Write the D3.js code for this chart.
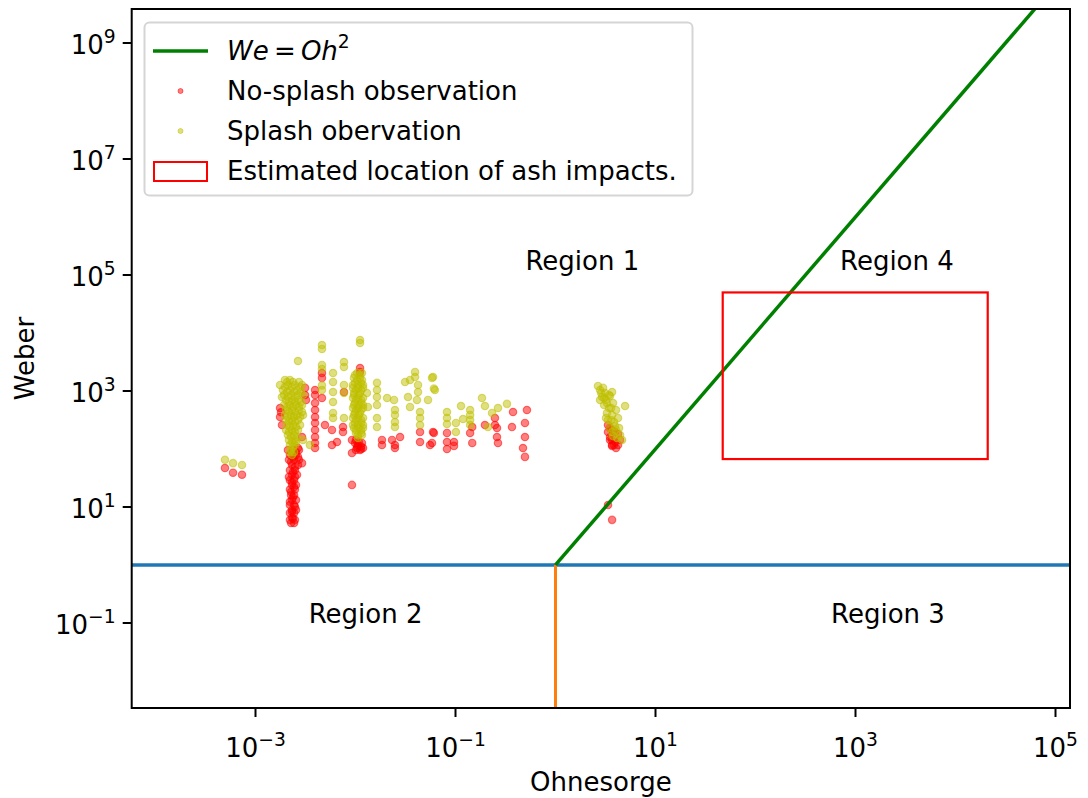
<!DOCTYPE html>
<html>
<head>
<meta charset="utf-8">
<script src="https://cdn.jsdelivr.net/npm/d3@7"></script>
<style>
  html, body { margin: 0; padding: 0; background: #ffffff; }
  svg { display: block; }
  text { font-family: "DejaVu Sans", sans-serif; fill: #000; }
</style>
</head>
<body>
<svg id="chart" width="1088" height="798"></svg>
<script>
// Droplet impact regime map: Weber number against Ohnesorge number.

// No-splash observations [Ohnesorge, Weber]
const noSplash = [
  [0.000495, 47], [0.000596, 39], [0.000733, 36],
  [0.00227, 5.3], [0.00243, 5.3], [0.00221, 6.0], [0.00248, 6.0], [0.00232, 6.6],
  [0.00221, 7.9], [0.00243, 7.9], [0.00232, 8.9], [0.00254, 8.9], [0.00221, 10.8],
  [0.00243, 10.8], [0.00232, 13.2], [0.00254, 13.2], [0.00227, 16], [0.00243, 16],
  [0.00221, 20], [0.00248, 20], [0.00232, 24], [0.00254, 24], [0.00221, 29],
  [0.00243, 29], [0.00232, 36], [0.0026, 36], [0.00221, 43], [0.00248, 43],
  [0.00232, 53], [0.00266, 53], [0.00216, 65], [0.00243, 65], [0.00272, 65],
  [0.00221, 79], [0.00254, 79], [0.00211, 96], [0.00237, 96], [0.00272, 96],
  [0.00237, 6.3], [0.00232, 8.2], [0.00248, 10.1], [0.00221, 12.3], [0.00237, 14.8],
  [0.00227, 18.1], [0.00243, 22.1], [0.00232, 27], [0.00216, 33], [0.00248, 33],
  [0.00237, 40], [0.00248, 49], [0.00227, 60], [0.00237, 73], [0.00266, 73],
  [0.00254, 88],
  [0.00292, 57], [0.00266, 104], [0.00292, 161],
  [0.00176, 509], [0.00176, 356], [0.00184, 259], [0.00180, 430],
  [0.00313, 1130], [0.00313, 853], [0.0032, 700],
  [0.00394, 1040], [0.00394, 853], [0.00394, 621], [0.00394, 470], [0.00394, 356],
  [0.00394, 281], [0.00394, 213], [0.00394, 161], [0.00394, 127], [0.00394, 104],
  [0.00462, 2040], [0.00462, 1680], [0.00462, 757],
  [0.00495, 259], [0.00582, 213], [0.00582, 117], [0.00653, 132], [0.00767, 961],
  [0.0075, 239], [0.0075, 196],
  [0.00922, 143], [0.00989, 127], [0.0106, 117], [0.0114, 110], [0.0119, 104],
  [0.0101, 96], [0.0111, 96], [0.0104, 110],
  [0.0101, 143], [0.0108, 132], [0.0116, 127], [0.0104, 104], [0.0114, 100],
  [0.0111, 2490], [0.0111, 2130], [0.00922, 85], [0.00922, 24],
  [0.0184, 143], [0.0184, 117], [0.0232, 143], [0.0248, 117], [0.0248, 104],
  [0.0279, 161], [0.0442, 196], [0.0442, 132], [0.0556, 117], [0.0596, 196],
  [0.0608, 189], [0.0582, 127], [0.0822, 189], [0.0822, 132], [0.0822, 100],
  [0.0966, 132], [0.0966, 113], [0.147, 239], [0.140, 189], [0.147, 127],
  [0.197, 259], [0.248, 342], [0.248, 259], [0.26, 230], [0.26, 161], [0.266, 127],
  [0.376, 434], [0.367, 239], [0.518, 470], [0.495, 281], [0.495, 161],
  [0.473, 104], [0.495, 73],
  [3.35, 259], [3.51, 230], [3.68, 213], [3.94, 196], [4.22, 181], [3.51, 161],
  [3.68, 143], [3.94, 132], [4.22, 117], [3.68, 117], [3.35, 196], [4.42, 143],
  [3.51, 143], [3.85, 117], [4.03, 104], [3.68, 113],
  [3.35, 10.8], [3.68, 6.0]
];

// Splash observations [Ohnesorge, Weber]
const splash = [
  [0.000495, 65], [0.000596, 57], [0.000733, 53],
  [0.00197, 1550], [0.00221, 1550],
  [0.00176, 1270], [0.00211, 1270], [0.00248, 1270], [0.00292, 1270],
  [0.00188, 1040], [0.00221, 1040], [0.0026, 1040],
  [0.00193, 853], [0.00227, 853], [0.00266, 853], [0.00299, 853],
  [0.00202, 700], [0.00232, 700], [0.00266, 700],
  [0.00193, 574], [0.00221, 574], [0.00254, 574], [0.00292, 574],
  [0.00202, 470], [0.00232, 470], [0.00272, 470],
  [0.00197, 386], [0.00227, 386], [0.0026, 386], [0.00299, 386],
  [0.00202, 316], [0.00232, 316], [0.00266, 316],
  [0.00207, 259], [0.00237, 259], [0.00279, 259],
  [0.00202, 213], [0.00232, 213], [0.00266, 213],
  [0.00211, 174], [0.00243, 174], [0.00216, 143], [0.00248, 143],
  [0.00221, 117], [0.00248, 117], [0.00227, 96], [0.00232, 79],
  [0.00207, 1430], [0.00237, 1430], [0.00272, 1430],
  [0.00197, 1172], [0.00232, 1172], [0.00279, 1172],
  [0.00207, 961], [0.00243, 961], [0.00285, 961],
  [0.00211, 788], [0.00248, 788], [0.00184, 788],
  [0.00216, 646], [0.00248, 646], [0.00285, 646],
  [0.00207, 530], [0.00237, 530], [0.00272, 530],
  [0.00216, 434], [0.00248, 434], [0.00292, 434],
  [0.00211, 356], [0.00243, 356], [0.00279, 356],
  [0.00216, 292], [0.00248, 292], [0.00221, 239], [0.00254, 239],
  [0.00216, 196], [0.00248, 196], [0.00227, 161], [0.0026, 161],
  [0.00232, 132], [0.00254, 132], [0.00237, 108], [0.00221, 88], [0.00243, 88],
  [0.00266, 3290], [0.0035, 117], [0.00299, 143],
  [0.00462, 6210], [0.00462, 5300], [0.00462, 2810], [0.00462, 2400],
  [0.00462, 1250], [0.00462, 1040],
  [0.00596, 2040], [0.00596, 1430], [0.00596, 961], [0.00596, 646],
  [0.00596, 418], [0.00596, 342],
  [0.00767, 3160], [0.00767, 2590], [0.00767, 1270], [0.00767, 924], [0.00767, 342],
  [0.0104, 2040], [0.0116, 2040], [0.00966, 1680], [0.0111, 1680],
  [0.00989, 1370], [0.0114, 1370], [0.00944, 1130], [0.0106, 1130], [0.0119, 1130],
  [0.00966, 924], [0.0111, 924], [0.00944, 757], [0.0106, 757], [0.0119, 757],
  [0.00989, 621], [0.0114, 621], [0.00944, 509], [0.0106, 509], [0.0119, 509],
  [0.00989, 418], [0.0111, 418], [0.00944, 342], [0.0106, 342], [0.0119, 342],
  [0.00989, 281], [0.0114, 281], [0.00966, 230], [0.0108, 230], [0.0119, 230],
  [0.0101, 189], [0.0114, 189], [0.0106, 155],
  [0.00989, 1888], [0.0111, 1888], [0.0104, 1550], [0.0116, 1550],
  [0.00944, 1270], [0.0106, 1270], [0.0119, 1270], [0.0101, 1040], [0.0114, 1040],
  [0.00966, 853], [0.0108, 853], [0.0101, 700], [0.0114, 700],
  [0.00966, 574], [0.0108, 574], [0.0119, 574], [0.0101, 470], [0.0114, 470],
  [0.00966, 386], [0.0108, 386], [0.0101, 316], [0.0114, 316],
  [0.00944, 259], [0.0106, 259], [0.0119, 259], [0.0101, 213], [0.0114, 213],
  [0.0106, 174], [0.0116, 174],
  [0.0111, 7570], [0.0111, 6720],
  [0.013, 924], [0.0133, 530],
  [0.0164, 1380], [0.0164, 1040], [0.0164, 788], [0.0164, 574], [0.0164, 342], [0.0164, 239],
  [0.0207, 757], [0.0243, 700], [0.0248, 470], [0.0248, 386], [0.0248, 292], [0.0248, 239],
  [0.0313, 1430], [0.0351, 1550], [0.0394, 2130], [0.0394, 1740], [0.0335, 788],
  [0.0351, 530], [0.0422, 1270], [0.0422, 961], [0.0412, 700], [0.0531, 700],
  [0.0582, 1680], [0.0622, 1040], [0.0442, 434], [0.0442, 342], [0.0442, 259],
  [0.0596, 1740], [0.0608, 1100],
  [0.0822, 434], [0.0822, 342], [0.0822, 270], [0.101, 281], [0.101, 196],
  [0.1135, 551], [0.140, 470], [0.140, 386], [0.140, 316], [0.140, 259],
  [0.119, 329], [0.184, 757], [0.197, 551], [0.232, 418], [0.266, 509],
  [0.327, 600], [0.211, 239],
  [2.66, 1220], [2.79, 1040], [2.99, 1130], [3.13, 924], [2.92, 788], [3.2, 700],
  [3.51, 820], [3.06, 574], [3.43, 509], [3.76, 621], [3.27, 418], [3.68, 386],
  [4.03, 470], [3.35, 316], [3.85, 292], [4.22, 342], [3.51, 230], [4.03, 213],
  [4.42, 174], [4.96, 551], [4.63, 143], [3.76, 167], [2.79, 700], [3.68, 961],
  [2.86, 924], [3.06, 757], [3.27, 621], [3.60, 509], [3.2, 342], [3.6, 316],
  [3.94, 249], [4.32, 230], [3.68, 196], [4.12, 155], [3.43, 853]
];

// We = Oh^2 boundary, from Oh = 1 upward
const boundaryOh = [1, 1e5];
const boundaryWe = [1, 1e10];

// Threshold lines at We = 1 and Oh = 1
const weThreshold = 1;
const ohThreshold = 1;

// Estimated location of ash impacts (Oh range, We range)
const ashOh = [47, 21000];
const ashWe = [67, 50000];

// Region labels [text, Oh, We]
const regionLabels = [
  ["Region 1", 0.5, 1.2e5],
  ["Region 4", 700, 1.2e5],
  ["Region 2", 0.0034, 0.1],
  ["Region 3", 570, 0.1]
];

// Axis ticks (every other decade)
const xTickExps = [-3, -1, 1, 3, 5];
const yTickExps = [-1, 1, 3, 5, 7, 9];

const legendItems = [
  { kind: "line", label: "We = Oh2" },
  { kind: "dot", color: "#ff0000", label: "No-splash observation" },
  { kind: "dot", color: "#bfbf00", label: "Splash obervation" },
  { kind: "rect", label: "Estimated location of ash impacts." }
];

const svg = d3.select("#chart");
const pLeft = 131.7, pRight = 1070, pTop = 9, pBottom = 708;
const FONT = 26;

const x = d3.scaleLog().domain([Math.pow(10, -4.238), Math.pow(10, 5.145)]).range([pLeft, pRight]);
const y = d3.scaleLog().domain([Math.pow(10, -2.466), Math.pow(10, 9.586)]).range([pBottom, pTop]);

svg.append("defs").append("clipPath").attr("id", "plotClip")
  .append("rect").attr("x", pLeft).attr("y", pTop).attr("width", pRight - pLeft).attr("height", pBottom - pTop);

const plot = svg.append("g").attr("clip-path", "url(#plotClip)");

// Observations
function drawPoints(data, color) {
  plot.append("g").selectAll("circle").data(data).join("circle")
    .attr("cx", d => x(d[0]))
    .attr("cy", d => y(d[1]))
    .attr("r", 3.7)
    .attr("fill", color).attr("fill-opacity", 0.5)
    .attr("stroke", color).attr("stroke-opacity", 0.5).attr("stroke-width", 1.2);
}
drawPoints(noSplash, "#ff0000");
drawPoints(splash, "#bfbf00");

// Horizontal We = 1 line
plot.append("line")
  .attr("x1", pLeft).attr("x2", pRight)
  .attr("y1", y(weThreshold)).attr("y2", y(weThreshold))
  .attr("stroke", "#1f77b4").attr("stroke-width", 3.5);

// Vertical Oh = 1 line below We = 1
plot.append("line")
  .attr("x1", x(ohThreshold)).attr("x2", x(ohThreshold))
  .attr("y1", y(weThreshold)).attr("y2", pBottom)
  .attr("stroke", "#ff7f0e").attr("stroke-width", 3);

// We = Oh^2 boundary
plot.append("path")
  .datum(boundaryOh.map((o, i) => [o, boundaryWe[i]]))
  .attr("d", d3.line().x(d => x(d[0])).y(d => y(d[1])))
  .attr("fill", "none").attr("stroke", "#008000").attr("stroke-width", 3.5);

// Ash impact box
plot.append("rect")
  .attr("x", x(ashOh[0])).attr("y", y(ashWe[1]))
  .attr("width", x(ashOh[1]) - x(ashOh[0]))
  .attr("height", y(ashWe[0]) - y(ashWe[1]))
  .attr("fill", "none").attr("stroke", "#ff0000").attr("stroke-width", 2.2);

// Region labels
svg.append("g").selectAll("text").data(regionLabels).join("text")
  .attr("x", d => x(d[1])).attr("y", d => y(d[2]))
  .attr("font-size", FONT)
  .text(d => d[0]);

// Frame
svg.append("rect")
  .attr("x", pLeft).attr("y", pTop).attr("width", pRight - pLeft).attr("height", pBottom - pTop)
  .attr("fill", "none").attr("stroke", "#000").attr("stroke-width", 2);

// Power-of-ten tick label with superscript exponent
function powLabel(sel) {
  sel.each(function(e) {
    const t = d3.select(this);
    t.append("tspan").text("10");
    t.append("tspan").attr("dy", -11).attr("font-size", FONT * 0.72)
      .text(e < 0 ? "\u2212" + Math.abs(e) : String(e));
  });
}

// x axis
const xAxis = svg.append("g");
xAxis.selectAll("line").data(xTickExps).join("line")
  .attr("x1", e => x(Math.pow(10, e))).attr("x2", e => x(Math.pow(10, e)))
  .attr("y1", pBottom).attr("y2", pBottom + 9)
  .attr("stroke", "#000").attr("stroke-width", 2);
xAxis.selectAll("text").data(xTickExps).join("text")
  .attr("x", e => x(Math.pow(10, e)))
  .attr("y", pBottom + 49)
  .attr("font-size", FONT)
  .attr("text-anchor", "middle")
  .call(powLabel);

// y axis
const yAxis = svg.append("g");
yAxis.selectAll("line").data(yTickExps).join("line")
  .attr("x1", pLeft - 9).attr("x2", pLeft)
  .attr("y1", e => y(Math.pow(10, e))).attr("y2", e => y(Math.pow(10, e)))
  .attr("stroke", "#000").attr("stroke-width", 2);
yAxis.selectAll("text").data(yTickExps).join("text")
  .attr("x", pLeft - 16)
  .attr("y", e => y(Math.pow(10, e)) + 11)
  .attr("font-size", FONT)
  .attr("text-anchor", "end")
  .call(powLabel);

// Axis titles
svg.append("text").attr("x", (pLeft + pRight) / 2).attr("y", 791)
  .attr("font-size", FONT).attr("text-anchor", "middle").text("Ohnesorge");
svg.append("text")
  .attr("transform", `translate(34,${(pTop + pBottom) / 2}) rotate(-90)`)
  .attr("font-size", FONT).attr("text-anchor", "middle").text("Weber");

// Legend
const lg = svg.append("g");
lg.append("rect").attr("x", 144.5).attr("y", 22.5).attr("width", 548).attr("height", 173)
  .attr("rx", 5).attr("fill", "#ffffff").attr("fill-opacity", 0.8)
  .attr("stroke", "#d5d5d5").attr("stroke-width", 2);
const rowY = [51, 91, 131, 171];
legendItems.forEach((item, i) => {
  const cy = rowY[i];
  if (item.kind === "line") {
    lg.append("line").attr("x1", 153).attr("x2", 208).attr("y1", cy).attr("y2", cy)
      .attr("stroke", "#008000").attr("stroke-width", 3.5);
    const t = lg.append("text").attr("x", 227).attr("y", cy + 9).attr("font-size", FONT)
      .attr("font-style", "italic");
    t.append("tspan").text("We");
    t.append("tspan").attr("font-style", "normal").text("\u2009=\u2009");
    t.append("tspan").text("Oh");
    t.append("tspan").attr("dy", -12).attr("font-size", FONT * 0.72).attr("font-style", "normal").text("2");
  } else {
    if (item.kind === "dot") {
      lg.append("circle").attr("cx", 180.5).attr("cy", cy).attr("r", 2.5)
        .attr("fill", item.color).attr("fill-opacity", 0.5)
        .attr("stroke", item.color).attr("stroke-opacity", 0.5).attr("stroke-width", 1);
    } else {
      lg.append("rect").attr("x", 154).attr("y", cy - 9).attr("width", 53).attr("height", 19)
        .attr("fill", "none").attr("stroke", "#ff0000").attr("stroke-width", 2);
    }
    lg.append("text").attr("x", 227).attr("y", cy + 9).attr("font-size", FONT).text(item.label);
  }
});
</script>
</body>
</html>
